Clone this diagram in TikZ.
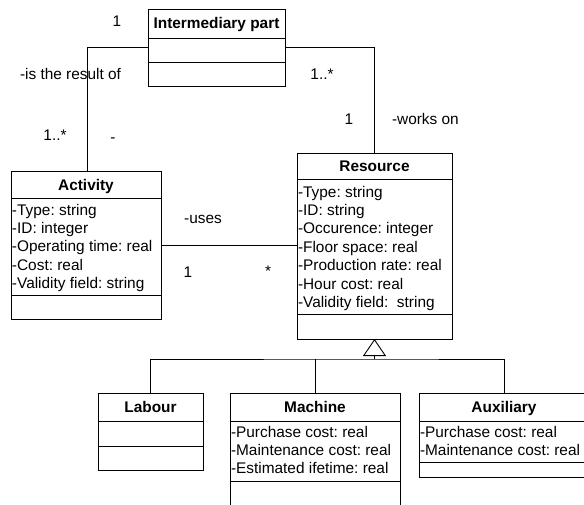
\documentclass[tikz,border=0pt]{standalone}
\usepackage{fontspec}
\setmainfont{Liberation Sans}
\usetikzlibrary{arrows.meta,calc}
\frenchspacing

% one unit = 1pt, y grows downwards
\tikzset{
  x=1pt, y=-1pt,
  every node/.style={inner sep=0pt, outer sep=0pt, font=\fontsize{15.4}{18.4}\selectfont},
  umlbox/.style={draw, line width=0.9pt, anchor=north west},
  umltitle/.style={anchor=base, font=\fontsize{15.4}{18.4}\selectfont\bfseries},
  attr/.style={anchor=base west},
  lbl/.style={anchor=base},
  link/.style={line width=0.9pt},
}
% horizontal compartment line across a class box
\newcommand\partline[2]{\draw[link] ([yshift=-#2pt]#1.north west) -- ([yshift=-#2pt]#1.north east);}

\begin{document}
\begin{tikzpicture}
\useasboundingbox (0,0) rectangle (584,504);
\clip (0,0) rectangle (584,504);

% ---------- classes ----------
\node[umlbox, minimum width=137pt, minimum height=77pt] (ip) at (148,9) {};
\partline{ip}{29}\partline{ip}{53}
\node[umltitle] (ipT) at ($(ip.north)+(0,19)$) {Intermediary part};

\node[umlbox, minimum width=150pt, minimum height=148pt] (act) at (11,171) {};
\partline{act}{27}\partline{act}{124}
\node[umltitle] (actT) at ($(act.north)+(0,19)$) {Activity};
\foreach \t [count=\i] in {-Type: string, -ID: integer, -Operating time: real, -Cost: real, -Validity field: string}
  \node[attr] (act-a\i) at ($(act.north west)+(1,{44+18.4*(\i-1)})$) {\t};

\node[umlbox, minimum width=155pt, minimum height=186pt] (res) at (297,153) {};
\partline{res}{26}\partline{res}{161}
\node[umltitle] (resT) at ($(res.north)+(0,18)$) {Resource};
\foreach \t [count=\i] in {-Type: string, -ID: string, -Occurence: integer, -Floor space: real, -Production rate: real, -Hour cost: real, -Validity field:~~string}
  \node[attr] (res-a\i) at ($(res.north west)+(1,{44+18.4*(\i-1)})$) {\t};

\node[umlbox, minimum width=105pt, minimum height=77pt] (lab) at (98,393) {};
\partline{lab}{28}\partline{lab}{53}
\node[umltitle] (labT) at ($(lab.north)+(0,19)$) {Labour};

\node[umlbox, minimum width=170pt, minimum height=130pt] (mach) at (230,393) {};
\partline{mach}{28}\partline{mach}{88}
\node[umltitle] (machT) at ($(mach.north)+(0,19)$) {Machine};
\foreach \t [count=\i] in {-Purchase cost: real, -Maintenance cost: real, -Estimated ifetime: real}
  \node[attr] (mach-a\i) at ($(mach.north west)+(1,{44+18.2*(\i-1)})$) {\t};

\node[umlbox, minimum width=170pt, minimum height=84pt] (aux) at (419,393) {};
\partline{aux}{28}\partline{aux}{69}
\node[umltitle] (auxT) at ($(aux.north)+(0,19)$) {Auxiliary};
\foreach \t [count=\i] in {-Purchase cost: real, -Maintenance cost: real}
  \node[attr] (aux-a\i) at ($(aux.north west)+(1,{44+18.4*(\i-1)})$) {\t};

% ---------- associations ----------
\draw[link] (ip.west) -| ($(act.north west)+(76,0)$);
\draw[link] (ip.east) -| (res.north);
\draw[link] (act.east) -- (act.east -| res.west);

\node[lbl] (m1) at (117,26) {1};
\node[anchor=base west] (r1) at (20,79) {-is the result of};
\node[lbl] (m2) at (322,79) {1..*};
\node[lbl] (m3) at (349,124) {1};
\node[anchor=base west] (r2) at (392,124) {-works on};
\node[lbl] (m4) at (55,140) {1..*};
\node[lbl] (r3) at (113,142) {-};
\node[lbl] (r4) at (203,223) {-uses};
\node[lbl] (m5) at (188,277) {1};
\node[lbl] (m6) at (268,276) {*};

% ---------- generalization ----------
\coordinate (gen) at ($(res.south)+(0,20)$);
\draw[link] (lab.north) |- (gen) -| (aux.north);
\draw[link] (mach.north) -- (mach.north |- gen);
\draw[link, -{Triangle[open, length=17pt, width=23pt]}] (gen) -- (res.south);
\end{tikzpicture}
\end{document}
